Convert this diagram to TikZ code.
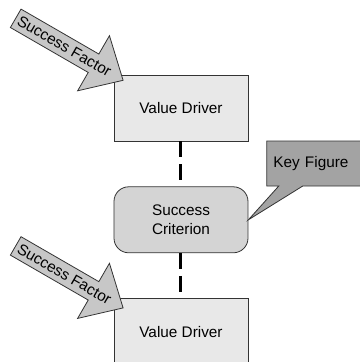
\documentclass[tikz,border=0pt]{standalone}
\usepackage{fontspec}
\setmainfont{Liberation Sans}
\usetikzlibrary{positioning,shapes.arrows,shapes.callouts}

\begin{document}
\begin{tikzpicture}[x=0.75pt,y=-0.75pt,font=\fontsize{11.5}{14}\selectfont,
  every node/.style={draw=black!80,line width=0.6pt},
  driver/.style={rectangle,fill=black!9,minimum width=100.5pt,minimum height=49.5pt},
  crit/.style={rectangle,rounded corners=11pt,fill=black!17,minimum width=100.5pt,minimum height=49.5pt,align=center},
  factor/.style={single arrow,fill=black!22,rotate=-30,minimum height=93pt,
    single arrow head extend=15.9pt,single arrow tip angle=86,inner xsep=2pt,inner ysep=3.6pt},
  keyfig/.style={rectangle callout,fill=black!36,minimum height=33.75pt,
    text width=63.5pt,inner xsep=5pt,align=left,callout pointer width=18pt},
  link/.style={line width=2.25pt,dash pattern=on 12pt off 5pt}]
\useasboundingbox (0,0) rectangle (360,362);

\node (vd1) [driver] at (181,108) {Value Driver};
\node (sc) [crit,below=33.75pt of vd1] {Success\\Criterion};
\node (vd2) [driver,below=33.75pt of sc] {Value Driver};

% success factors pointing at the drivers
\node (sf1) [factor,anchor=tip] at ([shift={(10,6)}]vd1.north west) {Success Factor};
\node (sf2) [factor,anchor=tip] at ([shift={(10,10)}]vd2.north west) {Success Factor};

\node (kf) [keyfig,anchor=south west,callout absolute pointer=(sc.east)]
  at ([shift={(18,0)}]sc.north east) {Key Figure};

\draw[link] (vd1) -- (sc);
\draw[link] (sc) -- (vd2);
\end{tikzpicture}
\end{document}
